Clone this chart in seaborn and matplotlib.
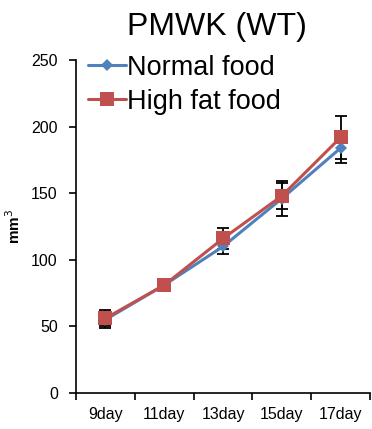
import numpy as np
import pandas as pd
import matplotlib
matplotlib.use("Agg")
import matplotlib.pyplot as plt
import seaborn as sns

days = ["9day", "11day", "13day", "15day", "17day"]
normal = [55, 81, 110, 146, 184]
normal_err = [6, 3, 6, 13, 11]
high_fat = [56, 81, 116, 148, 192]
high_fat_err = [6, 4, 8, 10, 16]

sns.set_style("white")
plt.rcParams["font.family"] = ["Liberation Sans", "DejaVu Sans"]
plt.rcParams["text.color"] = "black"
plt.rcParams["axes.labelcolor"] = "black"
plt.rcParams["xtick.color"] = "black"
plt.rcParams["ytick.color"] = "black"

df = pd.DataFrame({
    "day": days * 2,
    "x": list(range(len(days))) * 2,
    "vol": normal + high_fat,
    "group": ["Normal food"] * 5 + ["High fat food"] * 5,
})
sizes = {"D": 6, "s": 10}

fig = plt.figure(figsize=(3.72, 4.29), dpi=100)
ax = fig.add_axes([0.204, 0.084, 0.791, 0.776])

# error bars first, black caps
ax.errorbar(range(5), normal, yerr=normal_err, fmt="none", ecolor="black",
            elinewidth=1.3, capsize=4, capthick=1.3, zorder=1)
ax.errorbar(range(5), high_fat, yerr=high_fat_err, fmt="none", ecolor="black",
            elinewidth=1.3, capsize=4, capthick=1.3, zorder=1)

sns.lineplot(data=df, x="x", y="vol", hue="group", style="group",
             palette={"Normal food": "#4F81BD", "High fat food": "#C0504D"},
             markers={"Normal food": "D", "High fat food": "s"},
             dashes=False, linewidth=2.2, ax=ax, zorder=3)
for line in ax.lines:
    if line.get_marker() in sizes:
        line.set_markersize(sizes[line.get_marker()])
        line.set_markeredgewidth(0)

ax.set_ylim(0, 250)
ax.set_yticks([0, 50, 100, 150, 200, 250])
ax.set_xlim(-0.5, 4.5)
ax.set_xticks(range(5))
ax.set_xticklabels(days)
ax.set_xticks(np.arange(-0.5, 5, 1), minor=True)
ax.tick_params(axis="x", which="both", bottom=True)
ax.tick_params(axis="x", which="major", length=0, pad=10, labelsize=11.5)
ax.tick_params(axis="x", which="minor", length=5, width=1.2, direction="out", color="black")
ax.tick_params(axis="y", left=True, length=5, width=1.2, direction="out",
               labelsize=11.5, pad=8, color="black")
sns.despine(ax=ax)
for s in ["left", "bottom"]:
    ax.spines[s].set_linewidth(1.2)
    ax.spines[s].set_color("black")

ax.set_xlabel("")
ax.set_ylabel("mm$^3$", fontsize=11, fontweight="bold", labelpad=6)
fig.text(0.583, 0.937, "PMWK (WT)", ha="center", va="center", fontsize=23)

leg = ax.legend(loc="upper left", bbox_to_anchor=(-0.015, 1.065), frameon=False,
                fontsize=19.5, handlelength=1.4, handletextpad=0.05,
                labelspacing=0.3, borderaxespad=0.2)
for h in leg.legend_handles:
    h.set_markersize(sizes[h.get_marker()])
    h.set_markeredgewidth(0)

fig.savefig("out.png", dpi=100)
